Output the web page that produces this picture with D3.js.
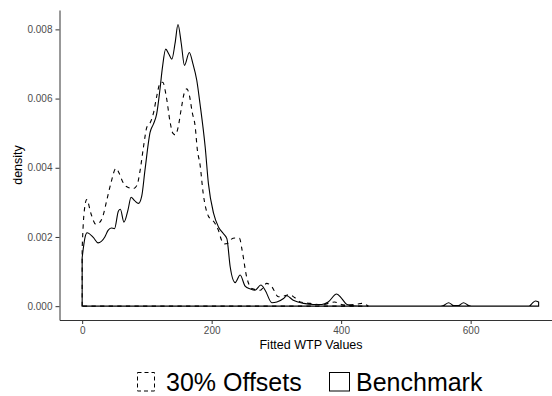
<!DOCTYPE html>
<html>
<head>
<meta charset="utf-8">
<script src="https://cdn.jsdelivr.net/npm/d3@7"></script>
<style>
  body { margin: 0; background: #fff; }
  svg { display: block; font-family: "Liberation Sans", Arial, sans-serif; }
  .axis path, .axis line { stroke: #333; stroke-width: 1; }
  .axis text { fill: #4d4d4d; font-size: 10px; }
</style>
</head>
<body>
<svg width="552" height="396"></svg>
<script>
// Benchmark density (solid)
var benchX = [0, 4.6, 7.5, 17.5, 24.5, 35, 40, 45, 50, 56, 59, 64.5, 71, 75.5, 81, 87, 92, 97,
    105, 110, 115, 120, 124, 129, 134, 138.5, 143.5, 148, 153, 158, 165.5, 171, 177, 182, 190,
    195, 203, 210.5, 218, 223.5, 228.6, 236.3, 244, 251.7, 259.5, 267, 276, 282.6, 293, 300.7,
    311, 316, 326, 342, 357, 370, 380, 393, 401, 409, 431, 550, 558, 566, 574, 581, 589, 597,
    605, 690, 695, 700, 705];
var benchY = [1.40, 2.00, 2.12, 1.98, 1.83, 2.00, 2.19, 2.26, 2.24, 2.75, 2.80, 2.43, 2.80, 3.15,
    3.05, 2.97, 3.18, 3.93, 5.03, 5.26, 5.55, 6.24, 6.90, 7.43, 7.28, 7.14, 7.60, 8.14, 7.60, 6.96,
    7.33, 7.01, 6.53, 5.85, 4.60, 3.54, 2.68, 2.29, 2.10, 1.95, 1.14, 0.68, 0.90, 0.58, 0.50,
    0.46, 0.61, 0.46, 0.10, 0.12, 0.22, 0.30, 0.17, 0.08, 0.05, 0.05, 0.12, 0.35, 0.22, 0.05,
    0.0, 0.0, 0.02, 0.10, 0.02, 0.02, 0.10, 0.02, 0.0, 0.0, 0.08, 0.15, 0.12];

// 30% Offsets density (dashed)
var offsetX = [0, 2.5, 7, 14, 21, 27, 32, 38, 45, 52, 57, 62, 69, 79, 84.5, 89.6, 94.7, 100, 105,
    110, 115, 120.5, 124.5, 130, 136, 140, 144, 148, 153, 157.5, 161.7, 165.5, 170, 174.5, 178,
    182, 187, 195, 203, 210.5, 215, 220, 225, 230, 236, 243, 247, 254, 262, 275, 285, 293, 303,
    313, 320, 328, 337, 352, 370, 390, 398, 410, 425, 432, 442];
var offsetY = [1.67, 2.60, 3.08, 2.65, 2.37, 2.42, 2.60, 3.06, 3.60, 3.98, 3.85, 3.62, 3.45, 3.40,
    3.49, 3.93, 4.60, 5.18, 5.30, 5.57, 6.05, 6.45, 6.47, 6.05, 5.30, 5.00, 4.95, 5.15, 5.70,
    6.15, 6.28, 6.10, 5.60, 5.20, 4.50, 4.10, 3.25, 2.60, 2.45, 2.19, 1.92, 1.80, 1.82, 1.93,
    1.97, 1.96, 1.62, 0.85, 0.51, 0.46, 0.66, 0.56, 0.27, 0.30, 0.33, 0.25, 0.12, 0.08, 0.04,
    0.12, 0.06, 0.03, 0.06, 0.08, 0.0];

var xTicks = [0, 200, 400, 600];
var yTicks = [0, 0.002, 0.004, 0.006, 0.008];
var legendLabels = ['30% Offsets', 'Benchmark'];

var svg = d3.select('svg');

var x = d3.scaleLinear().domain([-35, 740]).range([59.5, 561.3]);
var y = d3.scaleLinear().domain([-0.0004, 0.00856]).range([320, 10]);

svg.append('g').attr('class', 'axis')
    .attr('transform', 'translate(0,320)')
    .call(d3.axisBottom(x).tickValues(xTicks).tickSize(4).tickSizeOuter(0).tickPadding(3));

svg.append('g').attr('class', 'axis')
    .attr('transform', 'translate(59.5,0)')
    .call(d3.axisLeft(y).tickValues(yTicks).tickFormat(d3.format('.3f'))
        .tickSize(4).tickSizeOuter(0).tickPadding(3));

svg.selectAll('.axis text').attr('font-family', '"Liberation Sans", Arial, sans-serif');

svg.append('text')
    .attr('transform', 'translate(311,349)')
    .attr('text-anchor', 'middle')
    .style('font-size', '12.5px')
    .text('Fitted WTP Values');

svg.append('text')
    .attr('transform', 'translate(22.3,165) rotate(-90)')
    .attr('text-anchor', 'middle')
    .style('font-size', '12.5px')
    .text('density');

// density outline like geom_density: up from baseline, curve, back down, along baseline
var line = d3.line()
    .x(function(d) { return x(d[0]); })
    .y(function(d) { return y(d[1] / 1000); })
    .curve(d3.curveMonotoneX);

function densityPath(xs, ys) {
    var pts = xs.map(function(v, i) { return [v, ys[i]]; });
    var last = xs[xs.length - 1];
    return 'M' + x(0) + ',' + y(0) + line(pts).replace(/^M/, 'L') +
        'L' + x(last) + ',' + y(0) + 'Z';
}

svg.append('path')
    .attr('d', densityPath(offsetX, offsetY))
    .attr('fill', 'none')
    .attr('stroke', 'black')
    .attr('stroke-width', 1.1)
    .attr('stroke-dasharray', '4.3,4.3');

svg.append('path')
    .attr('d', densityPath(benchX, benchY))
    .attr('fill', 'none')
    .attr('stroke', 'black')
    .attr('stroke-width', 1.1);

// legend
var legend = svg.append('g');

legend.append('rect')
    .attr('x', 137.5).attr('y', 372.5).attr('width', 17).attr('height', 18.5)
    .attr('fill', 'none').attr('stroke', 'black').attr('stroke-width', 1)
    .attr('stroke-dasharray', '4,3');

legend.append('text')
    .attr('x', 166).attr('y', 391)
    .style('font-size', '25px')
    .text(legendLabels[0]);

legend.append('rect')
    .attr('x', 329.5).attr('y', 372.5).attr('width', 20).attr('height', 18.5)
    .attr('fill', 'none').attr('stroke', 'black').attr('stroke-width', 1);

legend.append('text')
    .attr('x', 356).attr('y', 391)
    .style('font-size', '25px')
    .text(legendLabels[1]);
</script>
</body>
</html>
